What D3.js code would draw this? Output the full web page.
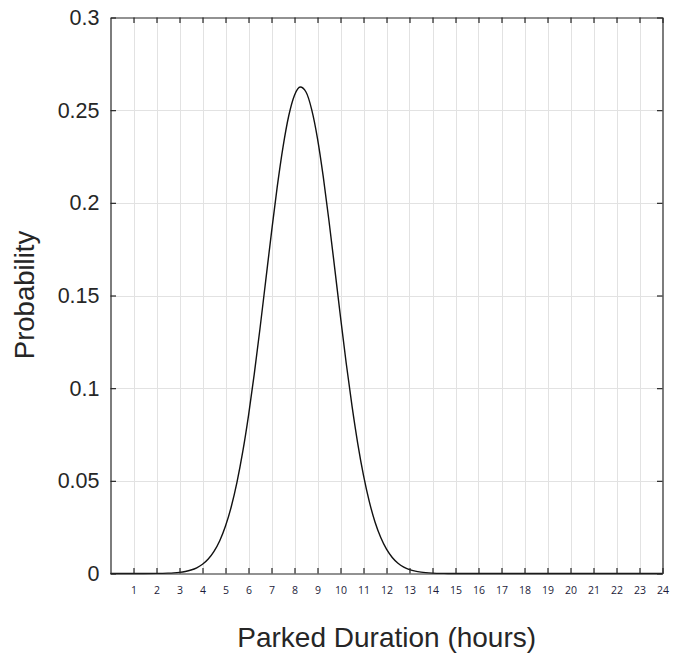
<!DOCTYPE html>
<html>
<head>
<meta charset="utf-8">
<script src="https://cdn.jsdelivr.net/npm/d3@7"></script>
<style>
  html, body { margin: 0; padding: 0; background: #ffffff; }
  svg { display: block; }
</style>
</head>
<body>
<svg id="chart" width="673" height="658"></svg>
<script>
// Parked duration (hours) and estimated probability
const durationHours = [0, 1, 2, 2.5, 2.75, 3, 3.25, 3.5, 3.75, 4, 4.25, 4.5, 4.75, 5, 5.25, 5.5, 5.75,
  6, 6.25, 6.5, 6.75, 7, 7.25, 7.5, 7.75, 8, 8.25, 8.5, 8.75, 9, 9.25, 9.5, 9.75,
  10, 10.25, 10.5, 10.75, 11, 11.25, 11.5, 11.75, 12, 12.25, 12.5, 12.75, 13, 13.25, 13.5,
  14, 14.5, 15, 16, 18, 20, 22, 24];
const probability = [0, 0, 0.00005, 0.00019, 0.00035, 0.00063, 0.0011, 0.00187, 0.00309, 0.00498, 0.00781, 0.01192, 0.0177, 0.0256, 0.036, 0.0493, 0.0657,
  0.0852, 0.1076, 0.1322, 0.1582, 0.1841, 0.2087, 0.2301, 0.247, 0.2581, 0.2625, 0.2598, 0.2502, 0.2347, 0.2141, 0.1902, 0.1645,
  0.1384, 0.1133, 0.0904, 0.0701, 0.0529, 0.0389, 0.0278, 0.0194, 0.0131, 0.00867, 0.00556, 0.00348, 0.00212, 0.00125, 0.00072,
  0.00022, 0.00006, 0.00001, 0, 0, 0, 0, 0];
const xTickValues = [1, 2, 3, 4, 5, 6, 7, 8, 9, 10, 11, 12, 13, 14, 15, 16, 17, 18, 19, 20, 21, 22, 23, 24];
const yTickValues = [0, 0.05, 0.1, 0.15, 0.2, 0.25, 0.3];
const yTickLabels = ["0", "0.05", "0.1", "0.15", "0.2", "0.25", "0.3"];
const xAxisTitle = "Parked Duration (hours)";
const yAxisTitle = "Probability";

(function () {
const svg = d3.select("#chart");
const pLeft = 110.5, pRight = 662.5, pTop = 17.5, pBottom = 573.5;
const axisColor = "#262626";
const gridColor = "#e2e2e2";
const tickLen = 5.5;

const x = d3.scaleLinear().domain([0, 24]).range([pLeft, pRight]);
const y = d3.scaleLinear().domain([0, 0.3]).range([pBottom, pTop]);

// grid
const grid = svg.append("g");
grid.selectAll("line.vg").data(xTickValues.filter(v => v < 24)).join("line")
  .attr("x1", d => Math.round(x(d)) + 0.5).attr("x2", d => Math.round(x(d)) + 0.5)
  .attr("y1", pTop).attr("y2", pBottom)
  .attr("stroke", gridColor).attr("stroke-width", 1);
grid.selectAll("line.hg").data(yTickValues.filter(v => v > 0 && v < 0.3)).join("line")
  .attr("y1", d => Math.round(y(d)) + 0.5).attr("y2", d => Math.round(y(d)) + 0.5)
  .attr("x1", pLeft).attr("x2", pRight)
  .attr("stroke", gridColor).attr("stroke-width", 1);

// curve
const line = d3.line()
  .x((d, i) => x(durationHours[i]))
  .y((d, i) => y(probability[i]))
  .curve(d3.curveMonotoneX);
svg.append("path")
  .datum(probability)
  .attr("d", line)
  .attr("fill", "none")
  .attr("stroke", "#111111")
  .attr("stroke-width", 1.4);

// axes (MATLAB-style box with inward ticks)
const xAxisB = d3.axisBottom(x).tickValues(xTickValues).tickSizeInner(-tickLen).tickSizeOuter(0).tickPadding(13);
const xAxisT = d3.axisTop(x).tickValues(xTickValues).tickSizeInner(-tickLen).tickSizeOuter(0).tickFormat("");
const yAxisL = d3.axisLeft(y).tickValues(yTickValues).tickSizeInner(-tickLen).tickSizeOuter(0).tickPadding(11)
  .tickFormat((d, i) => yTickLabels[i]);
const yAxisR = d3.axisRight(y).tickValues(yTickValues).tickSizeInner(-tickLen).tickSizeOuter(0).tickFormat("");

function styleAxis(g) {
  g.select(".domain").attr("stroke", axisColor).attr("stroke-width", 1.2);
  g.selectAll(".tick line").attr("stroke", axisColor).attr("stroke-width", 1.2);
}

const gB = svg.append("g").attr("transform", `translate(0,${pBottom})`).call(xAxisB).call(styleAxis);
gB.selectAll(".tick text")
  .attr("font-family", "'Open Sans', 'DejaVu Sans', sans-serif")
  .attr("font-size", 10.5).attr("fill", "#1c1c3a");
svg.append("g").attr("transform", `translate(0,${pTop})`).call(xAxisT).call(styleAxis);
const gL = svg.append("g").attr("transform", `translate(${pLeft},0)`).call(yAxisL).call(styleAxis);
gL.selectAll(".tick text")
  .attr("font-family", "'Liberation Sans', Arial, sans-serif")
  .attr("font-size", 21.5).attr("fill", axisColor);
svg.append("g").attr("transform", `translate(${pRight},0)`).call(yAxisR).call(styleAxis);

// axis titles
svg.append("text")
  .attr("x", 386.7).attr("y", 647)
  .attr("text-anchor", "middle")
  .attr("font-family", "'Liberation Sans', Arial, sans-serif")
  .attr("font-size", 28).attr("fill", axisColor)
  .text(xAxisTitle);
svg.append("text")
  .attr("transform", "translate(34,295) rotate(-90)")
  .attr("text-anchor", "middle")
  .attr("font-family", "'Liberation Sans', Arial, sans-serif")
  .attr("font-size", 27.5).attr("fill", axisColor)
  .text(yAxisTitle);
})();
</script>
</body>
</html>
